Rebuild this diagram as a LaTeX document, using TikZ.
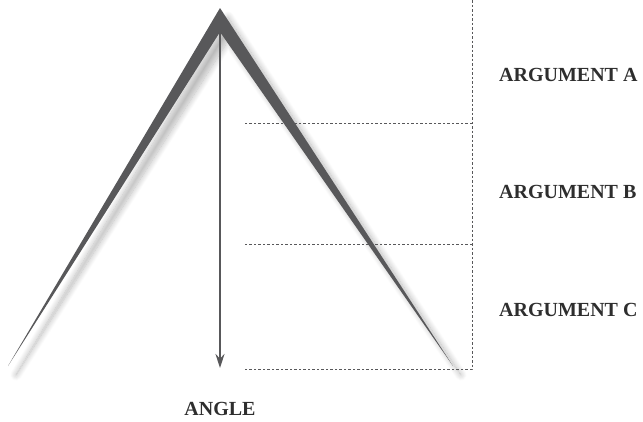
\documentclass[tikz,border=0pt]{standalone}
\usepackage{fontspec}
\setmainfont{Liberation Serif}
\usepackage{tikz}
\usetikzlibrary{arrows.meta,positioning,shadows.blur}
\definecolor{legGray}{HTML}{58585A}
\definecolor{textGray}{HTML}{2E2E2E}
\tikzset{
  guide/.style={draw=legGray, line width=0.9pt, dash pattern=on 2.5pt off 2pt},
  arglabel/.style={text=textGray, inner sep=0pt, font=\bfseries\fontsize{20}{20}\selectfont}
}

\begin{document}
\begin{tikzpicture}[x=1pt,y=-1pt]
\useasboundingbox (0,0) rectangle (643,421);
\coordinate (apex) at (220,8);
\coordinate (notch) at (220,32);
\coordinate (lefttip) at (8,366);
\coordinate (righttip) at (453,366);
\coordinate (arrowend) at (220,368);
% the two legs
\fill[legGray, blur shadow={shadow xshift=8pt, shadow yshift=-9pt,
  shadow blur radius=6pt, shadow blur steps=14, shadow opacity=28}]
  (lefttip) -- (apex) -- (righttip) -- (notch) -- cycle;
\draw[legGray, line width=1.6pt, -{Stealth[length=14pt,width=9pt]}] (notch) -- (arrowend);
% guide lines
\coordinate (vtop) at (472,0);
\coordinate (vbot) at (472,369);
\coordinate (ab) at (472,123);
\coordinate (bc) at (472,244);
\draw[guide] (vtop) -- (vbot) -- (245,369);
\draw[guide] (ab) -- (245,123);
\draw[guide] (bc) -- (245,244);
\node[arglabel, anchor=west] (argA) at (499,75) {ARGUMENT A};
\node[arglabel, anchor=west] (argB) at (499,192) {ARGUMENT B};
\node[arglabel, anchor=west] (argC) at (499,310) {ARGUMENT C};
\node[arglabel, below=34pt of arrowend] (angle) {ANGLE};
\end{tikzpicture}
\end{document}
